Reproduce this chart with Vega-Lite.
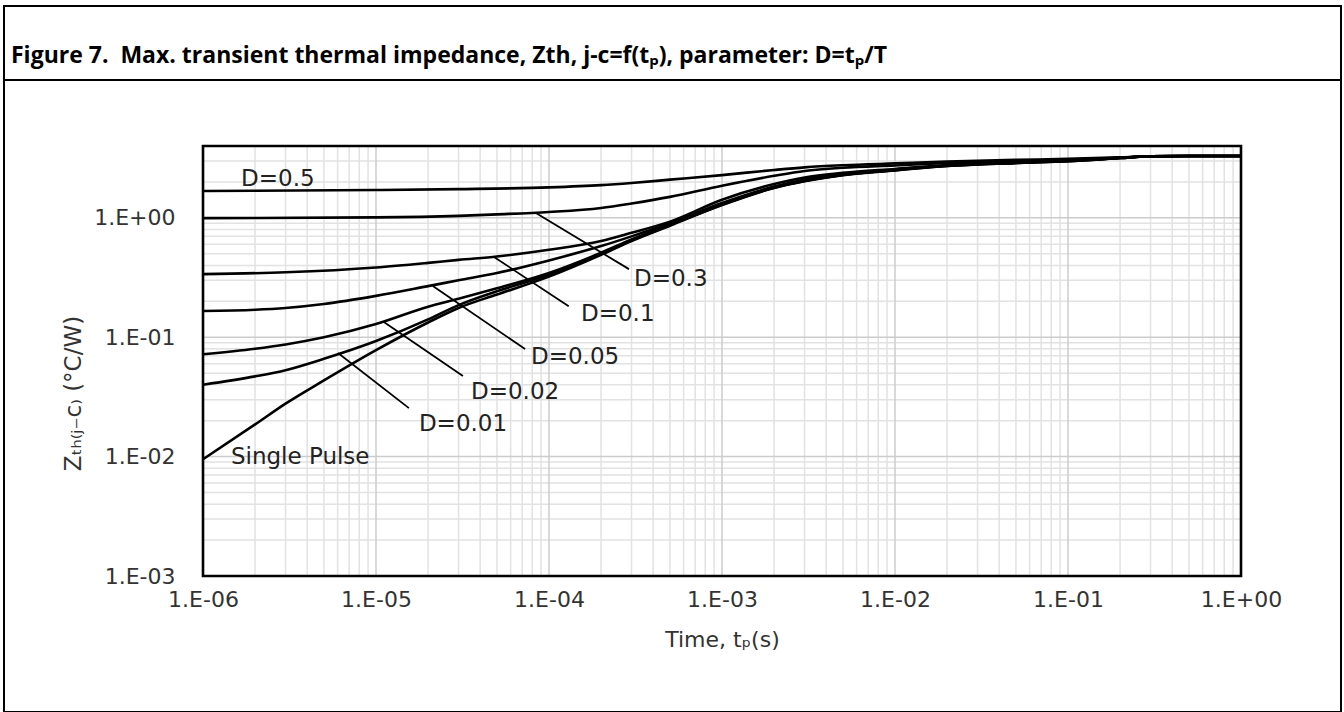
{
  "$schema": "https://vega.github.io/schema/vega-lite/v6.json",
  "padding": {"left": 3, "top": 5, "right": 0, "bottom": 0},
  "autosize": {"type": "pad"},
  "background": "white",
  "spacing": 0,
  "bounds": "flush",
  "config": {"view": {"stroke": "black", "strokeWidth": 2}, "concat": {"spacing": 0}},
  "datasets": {
    "header": [{"title": "Figure 7.\u00a0 Max. transient thermal impedance, Zth, j-c=f(tₚ), parameter: D=tₚ/T"}],
    "xminor": [
      {"t": 2e-6}, {"t": 3e-6}, {"t": 4e-6}, {"t": 5e-6}, {"t": 6e-6}, {"t": 7e-6}, {"t": 8e-6}, {"t": 9e-6},
      {"t": 2e-5}, {"t": 3e-5}, {"t": 4e-5}, {"t": 5e-5}, {"t": 6e-5}, {"t": 7e-5}, {"t": 8e-5}, {"t": 9e-5},
      {"t": 2e-4}, {"t": 3e-4}, {"t": 4e-4}, {"t": 5e-4}, {"t": 6e-4}, {"t": 7e-4}, {"t": 8e-4}, {"t": 9e-4},
      {"t": 2e-3}, {"t": 3e-3}, {"t": 4e-3}, {"t": 5e-3}, {"t": 6e-3}, {"t": 7e-3}, {"t": 8e-3}, {"t": 9e-3},
      {"t": 2e-2}, {"t": 3e-2}, {"t": 4e-2}, {"t": 5e-2}, {"t": 6e-2}, {"t": 7e-2}, {"t": 8e-2}, {"t": 9e-2},
      {"t": 2e-1}, {"t": 3e-1}, {"t": 4e-1}, {"t": 5e-1}, {"t": 6e-1}, {"t": 7e-1}, {"t": 8e-1}, {"t": 9e-1}
    ],
    "xmajor": [{"t": 1e-5}, {"t": 1e-4}, {"t": 1e-3}, {"t": 1e-2}, {"t": 1e-1}],
    "yminor": [
      {"z": 0.002}, {"z": 0.003}, {"z": 0.004}, {"z": 0.005}, {"z": 0.006}, {"z": 0.007}, {"z": 0.008}, {"z": 0.009},
      {"z": 0.02}, {"z": 0.03}, {"z": 0.04}, {"z": 0.05}, {"z": 0.06}, {"z": 0.07}, {"z": 0.08}, {"z": 0.09},
      {"z": 0.2}, {"z": 0.3}, {"z": 0.4}, {"z": 0.5}, {"z": 0.6}, {"z": 0.7}, {"z": 0.8}, {"z": 0.9},
      {"z": 2}, {"z": 3}
    ],
    "ymajor": [{"z": 0.01}, {"z": 0.1}, {"z": 1}],
    "curves": [
      {"s": "Single Pulse", "t": 1e-6, "z": 0.0095}, {"s": "Single Pulse", "t": 2e-6, "z": 0.0186}, {"s": "Single Pulse", "t": 3e-6, "z": 0.0278}, {"s": "Single Pulse", "t": 5e-6, "z": 0.0435},
      {"s": "Single Pulse", "t": 1e-5, "z": 0.078}, {"s": "Single Pulse", "t": 2e-5, "z": 0.133}, {"s": "Single Pulse", "t": 3e-5, "z": 0.176}, {"s": "Single Pulse", "t": 5e-5, "z": 0.228},
      {"s": "Single Pulse", "t": 1e-4, "z": 0.322}, {"s": "Single Pulse", "t": 2e-4, "z": 0.49}, {"s": "Single Pulse", "t": 3e-4, "z": 0.64}, {"s": "Single Pulse", "t": 5e-4, "z": 0.86},
      {"s": "Single Pulse", "t": 1e-3, "z": 1.28}, {"s": "Single Pulse", "t": 2e-3, "z": 1.78}, {"s": "Single Pulse", "t": 3e-3, "z": 2.03}, {"s": "Single Pulse", "t": 5e-3, "z": 2.28},
      {"s": "Single Pulse", "t": 1e-2, "z": 2.5}, {"s": "Single Pulse", "t": 2e-2, "z": 2.72}, {"s": "Single Pulse", "t": 5e-2, "z": 2.88}, {"s": "Single Pulse", "t": 1e-1, "z": 2.99},
      {"s": "Single Pulse", "t": 2e-1, "z": 3.17}, {"s": "Single Pulse", "t": 3e-1, "z": 3.28}, {"s": "Single Pulse", "t": 5e-1, "z": 3.3}, {"s": "Single Pulse", "t": 1, "z": 3.3},

      {"s": "D=0.01", "t": 1e-6, "z": 0.04}, {"s": "D=0.01", "t": 2e-6, "z": 0.047}, {"s": "D=0.01", "t": 3e-6, "z": 0.053}, {"s": "D=0.01", "t": 5e-6, "z": 0.066},
      {"s": "D=0.01", "t": 1e-5, "z": 0.093}, {"s": "D=0.01", "t": 2e-5, "z": 0.141}, {"s": "D=0.01", "t": 3e-5, "z": 0.186}, {"s": "D=0.01", "t": 5e-5, "z": 0.243},
      {"s": "D=0.01", "t": 1e-4, "z": 0.333}, {"s": "D=0.01", "t": 2e-4, "z": 0.5}, {"s": "D=0.01", "t": 3e-4, "z": 0.65}, {"s": "D=0.01", "t": 5e-4, "z": 0.87},
      {"s": "D=0.01", "t": 1e-3, "z": 1.29}, {"s": "D=0.01", "t": 2e-3, "z": 1.79}, {"s": "D=0.01", "t": 3e-3, "z": 2.04}, {"s": "D=0.01", "t": 5e-3, "z": 2.29},
      {"s": "D=0.01", "t": 1e-2, "z": 2.51}, {"s": "D=0.01", "t": 2e-2, "z": 2.72}, {"s": "D=0.01", "t": 5e-2, "z": 2.88}, {"s": "D=0.01", "t": 1e-1, "z": 2.99},
      {"s": "D=0.01", "t": 2e-1, "z": 3.17}, {"s": "D=0.01", "t": 3e-1, "z": 3.28}, {"s": "D=0.01", "t": 5e-1, "z": 3.3}, {"s": "D=0.01", "t": 1, "z": 3.3},

      {"s": "D=0.02", "t": 1e-6, "z": 0.072}, {"s": "D=0.02", "t": 2e-6, "z": 0.08}, {"s": "D=0.02", "t": 3e-6, "z": 0.087}, {"s": "D=0.02", "t": 5e-6, "z": 0.1},
      {"s": "D=0.02", "t": 1e-5, "z": 0.129}, {"s": "D=0.02", "t": 2e-5, "z": 0.18}, {"s": "D=0.02", "t": 3e-5, "z": 0.21}, {"s": "D=0.02", "t": 5e-5, "z": 0.257},
      {"s": "D=0.02", "t": 1e-4, "z": 0.345}, {"s": "D=0.02", "t": 2e-4, "z": 0.51}, {"s": "D=0.02", "t": 3e-4, "z": 0.66}, {"s": "D=0.02", "t": 5e-4, "z": 0.88},
      {"s": "D=0.02", "t": 1e-3, "z": 1.3}, {"s": "D=0.02", "t": 2e-3, "z": 1.8}, {"s": "D=0.02", "t": 3e-3, "z": 2.05}, {"s": "D=0.02", "t": 5e-3, "z": 2.3},
      {"s": "D=0.02", "t": 1e-2, "z": 2.52}, {"s": "D=0.02", "t": 2e-2, "z": 2.73}, {"s": "D=0.02", "t": 5e-2, "z": 2.89}, {"s": "D=0.02", "t": 1e-1, "z": 3.0},
      {"s": "D=0.02", "t": 2e-1, "z": 3.17}, {"s": "D=0.02", "t": 3e-1, "z": 3.28}, {"s": "D=0.02", "t": 5e-1, "z": 3.3}, {"s": "D=0.02", "t": 1, "z": 3.3},

      {"s": "D=0.05", "t": 1e-6, "z": 0.166}, {"s": "D=0.05", "t": 2e-6, "z": 0.17}, {"s": "D=0.05", "t": 3e-6, "z": 0.176}, {"s": "D=0.05", "t": 5e-6, "z": 0.19},
      {"s": "D=0.05", "t": 1e-5, "z": 0.222}, {"s": "D=0.05", "t": 2e-5, "z": 0.268}, {"s": "D=0.05", "t": 3e-5, "z": 0.3}, {"s": "D=0.05", "t": 5e-5, "z": 0.345},
      {"s": "D=0.05", "t": 1e-4, "z": 0.44}, {"s": "D=0.05", "t": 2e-4, "z": 0.58}, {"s": "D=0.05", "t": 3e-4, "z": 0.7}, {"s": "D=0.05", "t": 5e-4, "z": 0.9},
      {"s": "D=0.05", "t": 1e-3, "z": 1.33}, {"s": "D=0.05", "t": 2e-3, "z": 1.83}, {"s": "D=0.05", "t": 3e-3, "z": 2.1}, {"s": "D=0.05", "t": 5e-3, "z": 2.33},
      {"s": "D=0.05", "t": 1e-2, "z": 2.54}, {"s": "D=0.05", "t": 2e-2, "z": 2.75}, {"s": "D=0.05", "t": 5e-2, "z": 2.9}, {"s": "D=0.05", "t": 1e-1, "z": 3.01},
      {"s": "D=0.05", "t": 2e-1, "z": 3.18}, {"s": "D=0.05", "t": 3e-1, "z": 3.28}, {"s": "D=0.05", "t": 5e-1, "z": 3.3}, {"s": "D=0.05", "t": 1, "z": 3.3},

      {"s": "D=0.1", "t": 1e-6, "z": 0.338}, {"s": "D=0.1", "t": 3e-6, "z": 0.35}, {"s": "D=0.1", "t": 1e-5, "z": 0.384}, {"s": "D=0.1", "t": 2e-5, "z": 0.42},
      {"s": "D=0.1", "t": 3e-5, "z": 0.445}, {"s": "D=0.1", "t": 5e-5, "z": 0.475}, {"s": "D=0.1", "t": 1e-4, "z": 0.54}, {"s": "D=0.1", "t": 2e-4, "z": 0.64},
      {"s": "D=0.1", "t": 3e-4, "z": 0.75}, {"s": "D=0.1", "t": 5e-4, "z": 0.93}, {"s": "D=0.1", "t": 1e-3, "z": 1.42}, {"s": "D=0.1", "t": 2e-3, "z": 1.92},
      {"s": "D=0.1", "t": 3e-3, "z": 2.18}, {"s": "D=0.1", "t": 5e-3, "z": 2.38}, {"s": "D=0.1", "t": 1e-2, "z": 2.57}, {"s": "D=0.1", "t": 2e-2, "z": 2.77},
      {"s": "D=0.1", "t": 5e-2, "z": 2.92}, {"s": "D=0.1", "t": 1e-1, "z": 3.03}, {"s": "D=0.1", "t": 2e-1, "z": 3.19}, {"s": "D=0.1", "t": 3e-1, "z": 3.28},
      {"s": "D=0.1", "t": 5e-1, "z": 3.3}, {"s": "D=0.1", "t": 1, "z": 3.3},

      {"s": "D=0.3", "t": 1e-6, "z": 0.995}, {"s": "D=0.3", "t": 1e-5, "z": 1.01}, {"s": "D=0.3", "t": 3e-5, "z": 1.04}, {"s": "D=0.3", "t": 5e-5, "z": 1.07},
      {"s": "D=0.3", "t": 1e-4, "z": 1.12}, {"s": "D=0.3", "t": 2e-4, "z": 1.21}, {"s": "D=0.3", "t": 3e-4, "z": 1.32}, {"s": "D=0.3", "t": 5e-4, "z": 1.5},
      {"s": "D=0.3", "t": 1e-3, "z": 1.86}, {"s": "D=0.3", "t": 2e-3, "z": 2.25}, {"s": "D=0.3", "t": 3e-3, "z": 2.47}, {"s": "D=0.3", "t": 5e-3, "z": 2.63},
      {"s": "D=0.3", "t": 1e-2, "z": 2.75}, {"s": "D=0.3", "t": 2e-2, "z": 2.88}, {"s": "D=0.3", "t": 5e-2, "z": 3.0}, {"s": "D=0.3", "t": 1e-1, "z": 3.08},
      {"s": "D=0.3", "t": 2e-1, "z": 3.2}, {"s": "D=0.3", "t": 3e-1, "z": 3.28}, {"s": "D=0.3", "t": 5e-1, "z": 3.3}, {"s": "D=0.3", "t": 1, "z": 3.3},

      {"s": "D=0.5", "t": 1e-6, "z": 1.68}, {"s": "D=0.5", "t": 1e-5, "z": 1.71}, {"s": "D=0.5", "t": 3e-5, "z": 1.74}, {"s": "D=0.5", "t": 1e-4, "z": 1.8},
      {"s": "D=0.5", "t": 2e-4, "z": 1.88}, {"s": "D=0.5", "t": 3e-4, "z": 1.96}, {"s": "D=0.5", "t": 5e-4, "z": 2.09}, {"s": "D=0.5", "t": 1e-3, "z": 2.28},
      {"s": "D=0.5", "t": 2e-3, "z": 2.52}, {"s": "D=0.5", "t": 3e-3, "z": 2.65}, {"s": "D=0.5", "t": 5e-3, "z": 2.76}, {"s": "D=0.5", "t": 1e-2, "z": 2.86},
      {"s": "D=0.5", "t": 2e-2, "z": 2.96}, {"s": "D=0.5", "t": 5e-2, "z": 3.06}, {"s": "D=0.5", "t": 1e-1, "z": 3.12}, {"s": "D=0.5", "t": 2e-1, "z": 3.21},
      {"s": "D=0.5", "t": 3e-1, "z": 3.28}, {"s": "D=0.5", "t": 5e-1, "z": 3.3}, {"s": "D=0.5", "t": 1, "z": 3.3}
    ],
    "leaders": [
      {"s": "D=0.3", "t1": 8.4e-5, "z1": 1.097, "t2": 2.9e-4, "z2": 0.372},
      {"s": "D=0.1", "t1": 4.81e-5, "z1": 0.47, "t2": 1.3e-4, "z2": 0.182},
      {"s": "D=0.05", "t1": 2.13e-5, "z1": 0.269, "t2": 7.27e-5, "z2": 0.0797},
      {"s": "D=0.02", "t1": 1.11e-5, "z1": 0.134, "t2": 3.18e-5, "z2": 0.0473},
      {"s": "D=0.01", "t1": 6.03e-6, "z1": 0.0738, "t2": 1.55e-5, "z2": 0.0255}
    ],
    "labels": [
      {"label": "D=0.5", "t": 1.66e-6, "z": 1.85},
      {"label": "D=0.3", "t": 3.1e-4, "z": 0.269},
      {"label": "D=0.1", "t": 1.53e-4, "z": 0.137},
      {"label": "D=0.05", "t": 7.87e-5, "z": 0.0597},
      {"label": "D=0.02", "t": 3.54e-5, "z": 0.0303},
      {"label": "D=0.01", "t": 1.77e-5, "z": 0.0164},
      {"label": "Single Pulse", "t": 1.45e-6, "z": 0.00867}
    ]
  },
  "vconcat": [
    {
      "width": 1337,
      "height": 74,
      "data": {"name": "header"},
      "mark": {"type": "text", "align": "left", "baseline": "middle", "dx": 7, "font": "Open Sans", "fontWeight": "bold", "fontSize": 23, "color": "black"},
      "encoding": {
        "x": {"datum": 0, "type": "quantitative", "scale": {"domain": [0, 1]}, "axis": null},
        "y": {"datum": 0.32, "type": "quantitative", "scale": {"domain": [0, 1]}, "axis": null},
        "text": {"field": "title"}
      }
    },
    {
      "width": 1337,
      "height": 632,
      "layer": [
        {
          "data": {"name": "xminor"},
          "mark": {"type": "rule", "color": "#e2e2e2", "strokeWidth": 1.5},
          "encoding": {
            "x": {"field": "t", "type": "quantitative", "scale": {"type": "log", "domain": [1e-6, 1], "range": [199, 1237], "nice": false}},
            "y": {"datum": 0.001, "type": "quantitative", "scale": {"type": "log", "domain": [0.001, 4], "range": [496, 66], "nice": false}},
            "y2": {"datum": 4}
          }
        },
        {
          "data": {"name": "yminor"},
          "mark": {"type": "rule", "color": "#e2e2e2", "strokeWidth": 1.5},
          "encoding": {
            "y": {"field": "z", "type": "quantitative", "scale": {"type": "log", "domain": [0.001, 4], "range": [496, 66], "nice": false}},
            "x": {"datum": 1e-6, "type": "quantitative", "scale": {"type": "log", "domain": [1e-6, 1], "range": [199, 1237], "nice": false}},
            "x2": {"datum": 1}
          }
        },
        {
          "data": {"name": "xmajor"},
          "mark": {"type": "rule", "color": "#cccccc", "strokeWidth": 1.5},
          "encoding": {
            "x": {"field": "t", "type": "quantitative", "scale": {"type": "log", "domain": [1e-6, 1], "range": [199, 1237], "nice": false}},
            "y": {"datum": 0.001, "type": "quantitative", "scale": {"type": "log", "domain": [0.001, 4], "range": [496, 66], "nice": false}},
            "y2": {"datum": 4}
          }
        },
        {
          "data": {"name": "ymajor"},
          "mark": {"type": "rule", "color": "#cccccc", "strokeWidth": 1.5},
          "encoding": {
            "y": {"field": "z", "type": "quantitative", "scale": {"type": "log", "domain": [0.001, 4], "range": [496, 66], "nice": false}},
            "x": {"datum": 1e-6, "type": "quantitative", "scale": {"type": "log", "domain": [1e-6, 1], "range": [199, 1237], "nice": false}},
            "x2": {"datum": 1}
          }
        },
        {
          "data": {"name": "curves"},
          "mark": {"type": "line", "color": "black", "strokeWidth": 2.6, "interpolate": "monotone"},
          "encoding": {
            "x": {
              "field": "t", "type": "quantitative",
              "scale": {"type": "log", "domain": [1e-6, 1], "range": [199, 1237], "nice": false},
              "axis": {
                "orient": "bottom",
                "offset": -136,
                "values": [1e-6, 1e-5, 1e-4, 1e-3, 1e-2, 1e-1, 1],
                "labelExpr": "'1.E' + (datum.value >= 1 ? '+00' : '-0' + round(-log(datum.value) / LN10))",
                "grid": false, "ticks": false, "domain": false,
                "labelFont": "DejaVu Sans", "labelFontSize": 22, "labelColor": "#333333",
                "labelPadding": 13, "labelFlush": false, "labelOverlap": false,
                "title": "Time, tₚ(s)",
                "titleFont": "DejaVu Sans", "titleFontSize": 22, "titleFontWeight": "normal", "titleColor": "#333333",
                "titleY": 63, "titleBaseline": "middle"
              }
            },
            "y": {
              "field": "z", "type": "quantitative",
              "scale": {"type": "log", "domain": [0.001, 4], "range": [496, 66], "nice": false},
              "axis": {
                "orient": "left",
                "offset": -199,
                "values": [0.001, 0.01, 0.1, 1],
                "labelExpr": "'1.E' + (datum.value >= 1 ? '+00' : '-0' + round(-log(datum.value) / LN10))",
                "grid": false, "ticks": false, "domain": false,
                "labelFont": "DejaVu Sans", "labelFontSize": 22, "labelColor": "#333333",
                "labelPadding": 28, "labelFlush": false, "labelOverlap": false,
                "title": "Zₜₕ₍ⱼ₋c₎ (°C/W)",
                "titleFont": "DejaVu Sans", "titleFontSize": 23, "titleFontWeight": "normal", "titleColor": "#333333",
                "titleX": -130, "titleY": 313, "titleBaseline": "middle", "titleAngle": -90
              }
            },
            "detail": {"field": "s", "type": "nominal"}
          }
        },
        {
          "data": {"name": "leaders"},
          "mark": {"type": "rule", "color": "black", "strokeWidth": 1.8},
          "encoding": {
            "x": {"field": "t1", "type": "quantitative", "scale": {"type": "log", "domain": [1e-6, 1], "range": [199, 1237], "nice": false}},
            "y": {"field": "z1", "type": "quantitative", "scale": {"type": "log", "domain": [0.001, 4], "range": [496, 66], "nice": false}},
            "x2": {"field": "t2"},
            "y2": {"field": "z2"}
          }
        },
        {
          "data": {"name": "labels"},
          "mark": {"type": "text", "align": "left", "baseline": "alphabetic", "font": "DejaVu Sans", "fontSize": 23, "color": "#222222"},
          "encoding": {
            "x": {"field": "t", "type": "quantitative", "scale": {"type": "log", "domain": [1e-6, 1], "range": [199, 1237], "nice": false}},
            "y": {"field": "z", "type": "quantitative", "scale": {"type": "log", "domain": [0.001, 4], "range": [496, 66], "nice": false}},
            "text": {"field": "label"}
          }
        },
        {
          "data": {"values": [{}]},
          "mark": {"type": "rect", "fill": null, "fillOpacity": 0, "stroke": "black", "strokeWidth": 2.6},
          "encoding": {
            "x": {"datum": 1e-6, "type": "quantitative", "scale": {"type": "log", "domain": [1e-6, 1], "range": [199, 1237], "nice": false}},
            "x2": {"datum": 1},
            "y": {"datum": 0.001, "type": "quantitative", "scale": {"type": "log", "domain": [0.001, 4], "range": [496, 66], "nice": false}},
            "y2": {"datum": 4}
          }
        }
      ]
    }
  ]
}
